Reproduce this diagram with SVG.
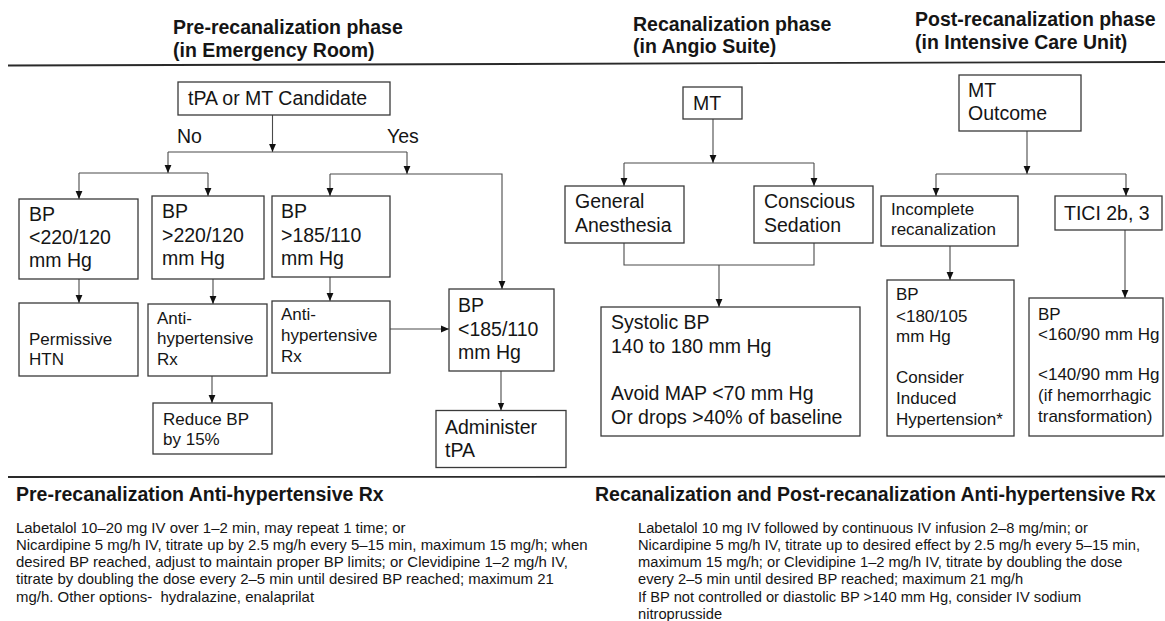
<svg xmlns="http://www.w3.org/2000/svg" width="1165" height="621" viewBox="0 0 1165 621">
<defs>
<style>
text{font-family:"Liberation Sans",Arial,Helvetica,sans-serif;fill:#151515}
.h{font-size:19.5px;font-weight:bold}
.t{font-size:19.5px}
.s{font-size:17px}
.b{font-size:14.7px}
.bl{font-size:14.95px}
.box{fill:#fff;stroke:#3a3a3a;stroke-width:1.3}
.c{fill:none;stroke:#4a4a4a;stroke-width:1.1}
.sep{stroke:#2a2a2a;stroke-width:1.8}
</style>
<marker id="ah" markerUnits="userSpaceOnUse" markerWidth="9" markerHeight="9" refX="8" refY="4" orient="auto">
<path d="M0,0.6 L8,4 L0,7.4 z" fill="#111"/>
</marker>
</defs>
<rect width="1165" height="621" fill="#fff"/>

<g id="headers">
<text class="h" x="173" y="34">Pre-recanalization phase</text>
<text class="h" x="173" y="57">(in Emergency Room)</text>
<text class="h" x="633" y="31">Recanalization phase</text>
<text class="h" x="633" y="53">(in Angio Suite)</text>
<text class="h" x="915" y="26">Post-recanalization phase</text>
<text class="h" x="915" y="49">(in Intensive Care Unit)</text>
<line class="sep" x1="8" y1="65.5" x2="1165" y2="62"/>
<line class="sep" x1="8" y1="477" x2="1165" y2="476.5"/>
</g>

<g id="connectors">
<line class="c" x1="272.5" y1="115" x2="272.5" y2="152" marker-end="url(#ah)"/>
<polyline class="c" points="168,152 407,152"/>
<line class="c" x1="168" y1="152" x2="168" y2="173" marker-end="url(#ah)"/>
<polyline class="c" points="79,173 208,173"/>
<line class="c" x1="79" y1="173" x2="79" y2="199" marker-end="url(#ah)"/>
<line class="c" x1="208" y1="173" x2="208" y2="196" marker-end="url(#ah)"/>
<line class="c" x1="407" y1="152" x2="407" y2="174" marker-end="url(#ah)"/>
<polyline class="c" points="330,174 502,174 502,289" marker-end="url(#ah)"/>
<line class="c" x1="330" y1="174" x2="330" y2="196" marker-end="url(#ah)"/>
<line class="c" x1="79" y1="279" x2="79" y2="303" marker-end="url(#ah)"/>
<line class="c" x1="213" y1="279" x2="213" y2="304" marker-end="url(#ah)"/>
<line class="c" x1="212" y1="376" x2="212" y2="403" marker-end="url(#ah)"/>
<line class="c" x1="330" y1="277" x2="330" y2="301" marker-end="url(#ah)"/>
<line class="c" x1="390" y1="329" x2="449" y2="329" marker-end="url(#ah)"/>
<line class="c" x1="501" y1="371" x2="501" y2="410.5" marker-end="url(#ah)"/>

<line class="c" x1="713" y1="119" x2="713" y2="163" marker-end="url(#ah)"/>
<polyline class="c" points="624,163 814,163"/>
<line class="c" x1="624" y1="163" x2="624" y2="186" marker-end="url(#ah)"/>
<line class="c" x1="814" y1="163" x2="814" y2="186" marker-end="url(#ah)"/>
<polyline class="c" points="624,243 624,265 814,265 814,243"/>
<line class="c" x1="719" y1="265" x2="719" y2="307" marker-end="url(#ah)"/>

<line class="c" x1="1027" y1="131" x2="1027" y2="174" marker-end="url(#ah)"/>
<polyline class="c" points="936,174 1126,174"/>
<line class="c" x1="936" y1="174" x2="936" y2="196" marker-end="url(#ah)"/>
<line class="c" x1="1126" y1="174" x2="1126" y2="196" marker-end="url(#ah)"/>
<line class="c" x1="950" y1="246" x2="950" y2="280" marker-end="url(#ah)"/>
<line class="c" x1="1125" y1="230" x2="1125" y2="298" marker-end="url(#ah)"/>
</g>

<g id="labels">
<text class="t" x="177" y="143">No</text>
<text class="t" x="387" y="143">Yes</text>
</g>

<g id="n-candidate">
<rect class="box" x="178" y="82" width="212" height="33"/>
<text class="t" x="188" y="105">tPA or MT Candidate</text>
</g>
<g id="n-bp220lt">
<rect class="box" x="19" y="199" width="119" height="80"/>
<text class="t" x="29" y="221">BP</text>
<text class="t" x="29" y="244">&lt;220/120</text>
<text class="t" x="29" y="267">mm Hg</text>
</g>
<g id="n-bp220gt">
<rect class="box" x="152" y="196" width="112" height="83"/>
<text class="t" x="162" y="218">BP</text>
<text class="t" x="162" y="242">&gt;220/120</text>
<text class="t" x="162" y="265">mm Hg</text>
</g>
<g id="n-bp185gt">
<rect class="box" x="272" y="196" width="118" height="81"/>
<text class="t" x="281" y="218">BP</text>
<text class="t" x="281" y="242">&gt;185/110</text>
<text class="t" x="281" y="265">mm Hg</text>
</g>
<g id="n-permissive">
<rect class="box" x="19" y="303" width="119" height="73"/>
<text class="s" x="29" y="345">Permissive</text>
<text class="s" x="29" y="365">HTN</text>
</g>
<g id="n-anti1">
<rect class="box" x="148" y="304" width="119" height="72"/>
<text class="s" x="157" y="324">Anti-</text>
<text class="s" x="157" y="344">hypertensive</text>
<text class="s" x="157" y="365">Rx</text>
</g>
<g id="n-reduce">
<rect class="box" x="153" y="403" width="119" height="51"/>
<text class="s" x="163" y="425">Reduce BP</text>
<text class="s" x="163" y="445">by 15%</text>
</g>
<g id="n-anti2">
<rect class="box" x="272" y="301" width="118" height="72"/>
<text class="s" x="281" y="320">Anti-</text>
<text class="s" x="281" y="341">hypertensive</text>
<text class="s" x="281" y="362">Rx</text>
</g>
<g id="n-bp185lt">
<rect class="box" x="449" y="289" width="105" height="82"/>
<text class="t" x="458" y="312">BP</text>
<text class="t" x="458" y="336">&lt;185/110</text>
<text class="t" x="458" y="359">mm Hg</text>
</g>
<g id="n-administer">
<rect class="box" x="436" y="410.5" width="130" height="57"/>
<text class="t" x="445" y="434">Administer</text>
<text class="t" x="445" y="457">tPA</text>
</g>

<g id="n-mt">
<rect class="box" x="683" y="87" width="59" height="32"/>
<text class="t" x="693" y="110">MT</text>
</g>
<g id="n-general">
<rect class="box" x="565" y="186" width="119" height="57"/>
<text class="t" x="575" y="208">General</text>
<text class="t" x="575" y="232">Anesthesia</text>
</g>
<g id="n-conscious">
<rect class="box" x="754" y="186" width="119" height="57"/>
<text class="t" x="764" y="208">Conscious</text>
<text class="t" x="764" y="232">Sedation</text>
</g>
<g id="n-systolic">
<rect class="box" x="601" y="307" width="259" height="129"/>
<text class="t" x="611" y="329">Systolic BP</text>
<text class="t" x="611" y="353">140 to 180 mm Hg</text>
<text class="t" x="611" y="400">Avoid MAP &lt;70 mm Hg</text>
<text class="t" x="611" y="424">Or drops &gt;40% of baseline</text>
</g>

<g id="n-outcome">
<rect class="box" x="959" y="75" width="122" height="56"/>
<text class="t" x="968" y="97">MT</text>
<text class="t" x="968" y="120">Outcome</text>
</g>
<g id="n-incomplete">
<rect class="box" x="881" y="196" width="137" height="50"/>
<text class="s" x="891" y="215">Incomplete</text>
<text class="s" x="891" y="235">recanalization</text>
</g>
<g id="n-tici">
<rect class="box" x="1055" y="196" width="107" height="34"/>
<text class="t" x="1064" y="220">TICI 2b, 3</text>
</g>
<g id="n-bp180">
<rect class="box" x="887" y="280" width="127" height="156"/>
<text class="s" x="896" y="300">BP</text>
<text class="s" x="896" y="322">&lt;180/105</text>
<text class="s" x="896" y="342">mm Hg</text>
<text class="s" x="896" y="383">Consider</text>
<text class="s" x="896" y="404">Induced</text>
<text class="s" x="896" y="425">Hypertension*</text>
</g>
<g id="n-bp160">
<rect class="box" x="1029" y="298" width="134" height="138"/>
<text class="s" x="1038" y="320">BP</text>
<text class="s" x="1038" y="340">&lt;160/90 mm Hg</text>
<text class="s" x="1038" y="380">&lt;140/90 mm Hg</text>
<text class="s" x="1038" y="401">(if hemorrhagic</text>
<text class="s" x="1038" y="422">transformation)</text>
</g>

<g id="notes-pre">
<text class="h" x="16" y="501">Pre-recanalization Anti-hypertensive Rx</text>
<text class="bl" x="16" y="532.5">Labetalol 10–20 mg IV over 1–2 min, may repeat 1 time; or</text>
<text class="bl" x="16" y="549.8">Nicardipine 5 mg/h IV, titrate up by 2.5 mg/h every 5–15 min, maximum 15 mg/h; when</text>
<text class="bl" x="16" y="567.1">desired BP reached, adjust to maintain proper BP limits; or Clevidipine 1–2 mg/h IV,</text>
<text class="bl" x="16" y="584.4">titrate by doubling the dose every 2–5 min until desired BP reached; maximum 21</text>
<text class="bl" x="16" y="601.7">mg/h. Other options-&#160; hydralazine, enalaprilat</text>
</g>
<g id="notes-post">
<text class="h" x="595" y="501">Recanalization and Post-recanalization Anti-hypertensive Rx</text>
<text class="b" x="638" y="532.5">Labetalol 10 mg IV followed by continuous IV infusion 2–8 mg/min; or</text>
<text class="b" x="638" y="549.8">Nicardipine 5 mg/h IV, titrate up to desired effect by 2.5 mg/h every 5–15 min,</text>
<text class="b" x="638" y="567.1">maximum 15 mg/h; or Clevidipine 1–2 mg/h IV, titrate by doubling the dose</text>
<text class="b" x="638" y="584.4">every 2–5 min until desired BP reached; maximum 21 mg/h</text>
<text class="b" x="638" y="601.7">If BP not controlled or diastolic BP &gt;140 mm Hg, consider IV sodium</text>
<text class="b" x="638" y="619">nitroprusside</text>
</g>
</svg>
